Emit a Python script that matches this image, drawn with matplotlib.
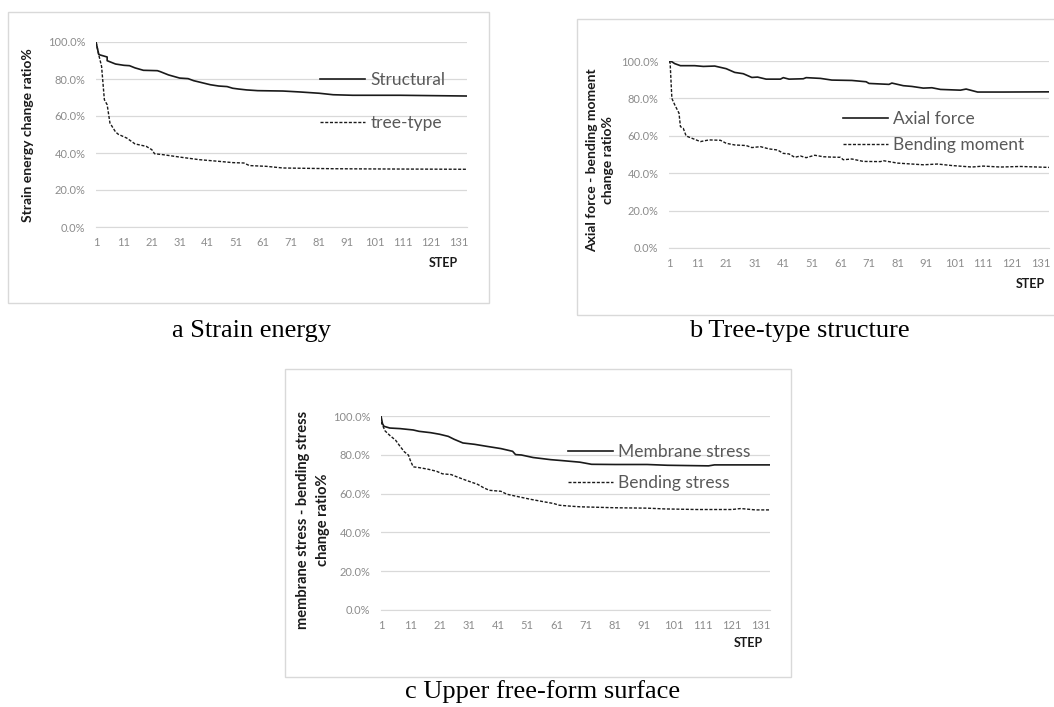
import matplotlib.pyplot as plt
from matplotlib.patches import Rectangle

# Data (step, % of initial value)
a_struct_step = [1, 2, 5, 5, 8, 11, 13, 15, 18, 23, 24, 27, 31, 34, 36, 39, 42, 45, 48, 50, 52, 55, 59, 68, 74, 81, 86, 93, 110, 134]
a_struct_val = [100, 93.2, 91.9, 89.9, 88.1, 87.4, 87.2, 86.0, 84.7, 84.5, 84.0, 82.2, 80.5, 80.2, 79.1, 78.0, 76.9, 76.2, 75.9, 75.0, 74.6, 74.1, 73.7, 73.5, 73.0, 72.3, 71.5, 71.2, 71.2, 70.8]
a_tree_step = [1, 2, 3, 4, 5, 6, 8, 9, 12, 15, 19, 21, 22, 25, 31, 38, 45, 50, 54, 56, 62, 68, 86, 98, 134]
a_tree_val = [100, 93.0, 86.8, 68.8, 66.1, 56.2, 51.4, 50.1, 48.1, 44.9, 43.6, 41.8, 39.6, 39.1, 37.8, 36.4, 35.5, 34.8, 34.6, 33.2, 32.8, 31.9, 31.5, 31.4, 31.2]

b_axial_step = [1, 2, 3, 5, 10, 13, 17, 21, 24, 27, 30, 32, 35, 40, 41, 43, 48, 49, 54, 58, 65, 70, 71, 78, 79, 83, 86, 90, 93, 96, 103, 105, 109, 118, 134]
b_axial_val = [100, 99.6, 98.6, 97.5, 97.5, 97.1, 97.3, 95.9, 93.9, 93.2, 91.2, 91.4, 90.3, 90.3, 91.1, 90.3, 90.5, 91.1, 90.7, 89.8, 89.6, 88.9, 88.0, 87.5, 88.2, 86.8, 86.4, 85.5, 85.7, 84.8, 84.4, 85.0, 83.4, 83.4, 83.5]
b_bend_step = [1, 1.4, 2, 3, 4.5, 5, 6, 7, 9, 12, 15, 19, 21, 24, 28, 30, 33, 36, 39, 41, 43, 45, 47, 49, 52, 55, 58, 61, 62, 65, 69, 75, 76, 81, 90, 95, 100, 107, 111, 117, 124, 134]
b_bend_val = [100, 98.9, 80.0, 76.6, 72.1, 64.9, 64.0, 59.9, 58.7, 56.9, 57.8, 57.6, 56.0, 55.1, 54.8, 53.7, 54.2, 53.0, 52.4, 50.6, 50.3, 48.5, 49.2, 48.3, 49.6, 48.8, 48.6, 48.5, 47.2, 47.6, 46.3, 46.2, 46.7, 45.4, 44.5, 44.9, 44.1, 43.3, 43.8, 43.3, 43.6, 43.1]

c_memb_step = [1, 1.5, 2, 4, 7.5, 12, 14, 18, 21, 24, 26, 29, 33, 37, 42, 46, 47, 49, 53, 59, 63, 69, 73, 81, 92, 99, 113, 115, 134]
c_memb_val = [100, 96.1, 94.7, 93.8, 93.5, 92.8, 92.1, 91.4, 90.6, 89.5, 88.0, 86.1, 85.4, 84.4, 83.2, 81.8, 80.1, 79.9, 78.6, 77.5, 77.0, 76.2, 75.1, 75.0, 75.0, 74.6, 74.3, 74.8, 74.8]
c_bstr_step = [1, 2.4, 4, 6, 7.5, 9, 10.4, 11, 12, 14, 17, 20, 22, 25, 27, 30, 34, 36, 38, 42, 44, 47, 52, 57, 60, 62, 66, 69, 81, 92, 98, 109, 121, 124, 129, 134]
c_bstr_val = [97, 92.3, 90.0, 87.5, 84.4, 81.5, 79.8, 77.2, 73.8, 73.4, 72.6, 71.5, 70.2, 69.8, 68.6, 66.9, 64.8, 63.1, 61.7, 61.2, 59.7, 58.7, 57.1, 55.7, 54.9, 54.0, 53.5, 53.2, 52.7, 52.5, 52.1, 51.8, 51.8, 52.3, 51.6, 51.6]

x_ticks = list(range(1, 132, 10))
y_ticks = [0, 20, 40, 60, 80, 100]

W, H = 1054, 707
fig = plt.figure(figsize=(W / 100, H / 100), dpi=100)
fig.patch.set_facecolor('white')

def fx(px):
    return px / W

def fy(py):
    return 1 - py / H

grey_line = '#d9d9d9'
tick_col = '#8c8c8c'
label_font = 'Lato'

def panel(box, area, series, labels, ylabel, ylab_xy, ylab_size, ylab_gap, step_xy, leg_xy, leg_space):
    # light frame of the Excel chart
    x0, y0, x1, y1 = box
    fig.add_artist(Rectangle((fx(x0), fy(y1)), fx(x1 - x0), (y1 - y0) / H,
                             fill=False, edgecolor=grey_line, lw=1.0))
    l, t, r, b = area
    ax = fig.add_axes([fx(l), fy(b), fx(r - l), (b - t) / H])
    styles = [dict(ls='-', lw=1.2), dict(ls=(0, (2.2, 1.2)), lw=1.0)]
    for (st, val), lab, sty in zip(series, labels, styles):
        ax.plot(st, val, color='#1a1a1a', label=lab, **sty)
    ax.set_xlim(1, 134)
    ax.set_ylim(0, 100)
    ax.set_xticks(x_ticks)
    ax.set_yticks(y_ticks)
    ax.set_yticklabels([f'{v:.1f}%' for v in y_ticks])
    ax.grid(axis='y', color=grey_line, lw=0.9)
    ax.set_axisbelow(True)
    for s in ['left', 'top', 'right']:
        ax.spines[s].set_visible(False)
    ax.spines['bottom'].set_color(grey_line)
    ax.tick_params(length=0, labelsize=8, colors=tick_col, pad=7.5)
    for lbl in ax.get_xticklabels() + ax.get_yticklabels():
        lbl.set_family(label_font)
    fig.text(fx(ylab_xy[0]), fy(ylab_xy[1]), ylabel, rotation=90, ha='center', va='center',
             multialignment='center', fontsize=ylab_size, fontweight='bold', family=label_font,
             color='#1a1a1a', linespacing=ylab_gap)
    fig.text(fx(step_xy[0]), fy(step_xy[1]), 'STEP', ha='center', va='center',
             fontsize=9, fontweight='bold', family=label_font, color='#1a1a1a')
    ax.legend(loc='center left', bbox_to_anchor=(fx(leg_xy[0]), fy(leg_xy[1])),
              bbox_transform=fig.transFigure, frameon=False, borderpad=0, borderaxespad=0,
              handlelength=2.6, handletextpad=0.3, labelspacing=leg_space,
              prop={'family': label_font, 'size': 12.5}, labelcolor='#595959')
    return ax

panel((8, 12, 489, 303), (96, 42, 467, 227),
      [(a_struct_step, a_struct_val), (a_tree_step, a_tree_val)],
      ['Structural', 'tree-type'], 'Strain energy change ratio%',
      (28, 135), 10, 1.2, (443, 263), (320, 101.5), 1.55)

panel((577, 19, 1070, 315), (669, 61, 1049, 248),
      [(b_axial_step, b_axial_val), (b_bend_step, b_bend_val)],
      ['Axial force', 'Bending moment'], 'Axial force - bending moment\nchange ratio%',
      (600, 160), 10, 1.35, (1030, 284), (843, 132), 0.55)

panel((285, 369, 791, 677), (381, 416, 770, 610),
      [(c_memb_step, c_memb_val), (c_bstr_step, c_bstr_val)],
      ['Membrane stress', 'Bending stress'], 'membrane stress - bending stress\nchange ratio%',
      (313, 520), 10.5, 1.5, (748, 643), (568, 467.5), 0.9)

cap = dict(ha='center', va='center', fontsize=19, family='Liberation Serif', color='black')
fig.text(fx(252), fy(331), 'a Strain energy', **cap)
fig.text(fx(799), fy(331), 'b Tree-type structure', **cap)
fig.text(fx(543), fy(692), 'c Upper free-form surface', **cap)

fig.savefig('out.png', dpi=100, facecolor='white')
